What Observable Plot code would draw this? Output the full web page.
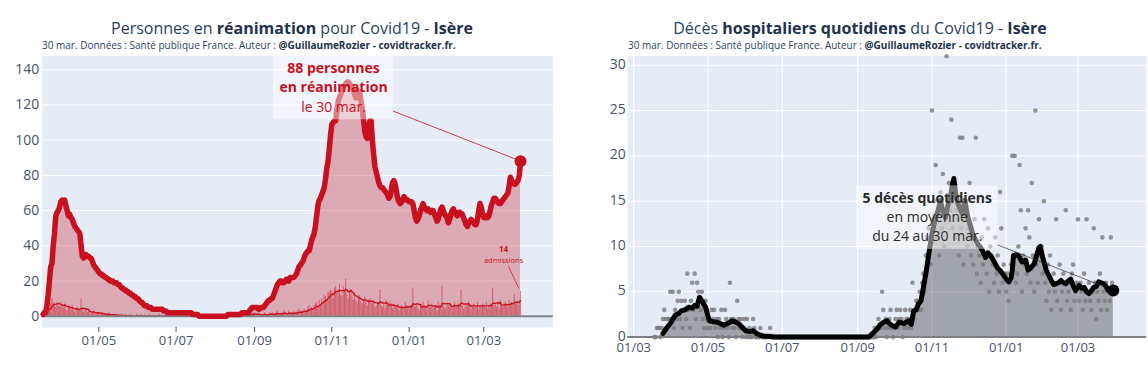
<!DOCTYPE html>
<html><head><meta charset="utf-8">
<script src="https://cdn.jsdelivr.net/npm/d3@7"></script>
<script src="https://cdn.jsdelivr.net/npm/@observablehq/plot@0.6"></script>
<style>
html,body{margin:0;padding:0;background:#fff;}
body{width:1148px;height:369px;overflow:hidden;position:relative;font-family:"Open Sans",sans-serif;}
.title{position:absolute;font-size:16px;line-height:1;color:#2a3f5f;white-space:nowrap;transform:translateX(-50%);}
.title b{color:#22324d;font-weight:700;}
.sub{position:absolute;font-size:10px;line-height:1;color:#2a3f5f;white-space:nowrap;}
.sub b{font-weight:700;color:#22324d;}
.chart{position:absolute;top:50px;}
</style></head><body>
<div class="title" style="left:292px;top:20px">Personnes en <b>réanimation</b> pour Covid19 - <b>Isère</b></div>
<div class="sub" style="left:42px;top:40px">30 mar. Données : Santé publique France. Auteur : <b>@GuillaumeRozier - covidtracker.fr.</b></div>
<div class="title" style="left:860px;top:20px">Décès <b>hospitaliers quotidiens</b> du Covid19 - <b>Isère</b></div>
<div class="sub" style="left:628px;top:40px">30 mar. Données : Santé publique France. Auteur : <b>@GuillaumeRozier - covidtracker.fr.</b></div>
<div id="left" class="chart" style="left:0px"></div>
<div id="right" class="chart" style="left:580px"></div>
<script>
// ---------- DATA ----------
// Personnes en réanimation (daily), by month blocks
const reaBlocks = [
  ["2020-03-18", [1,2,2,6,12,20,28,30,40,47,57,59,60,62]],
  ["2020-04-01", [65,66,65,66,63,60,57,58,56,55,53,51,50,49,48,47,40,34,33,34,35,34,34,33,33,31,29,28,27,26]],
  ["2020-05-01", [25,24,24,23,23,22,22,21,21,20,20,20,19,19,19,18,18,17,16,16,15,15,14,14,13,13,12,12,11,11,10]],
  ["2020-06-01", [10,9,8,8,7,6,6,6,5,5,5,4,4,4,4,4,4,4,4,4,3,3,3,2,2,2,2,2,2,2]],
  ["2020-07-01", [2,2,2,2,2,2,2,2,2,2,2,2,2,1,1,1,1,1,0,0,0,0,0,0,0,0,0,0,0,0,0]],
  ["2020-08-01", [0,0,0,0,0,0,0,0,0,0,1,1,1,1,1,1,1,1,1,1,1,2,2,2,2,2,2,3,4,5,5]],
  ["2020-09-01", [5,5,5,4,4,5,5,5,6,7,8,9,9,10,10,12,14,16,18,19,20,20,19,19,20,21,21,20,22,22]],
  ["2020-10-01", [22,22,23,24,26,28,29,30,31,33,35,36,37,37,40,43,45,47,51,57,63,66,67,69,71,73,78,84,88,95,103]],
  ["2020-11-01", [109,110,111,111,117,122,124,126,128,130,131,132,133,133,132,131,130,129,126,124,127,128,127,122,118,112,105,102,101,106]],
  ["2020-12-01", [111,111,100,92,85,82,79,76,74,73,73,72,71,70,69,67,68,72,76,77,75,71,67,65,64,65,66,68,67,66,66]],
  ["2021-01-01", [65,65,65,64,60,56,54,55,57,60,62,64,62,61,60,61,60,59,60,60,58,56,54,55,58,61,62,60,58,57,56]],
  ["2021-02-01", [53,55,58,60,61,59,58,57,59,59,58,58,56,54,52,51,53,54,55,54,53,52,52,55,60,64,62,58]],
  ["2021-03-01", [56,56,57,56,57,60,63,65,67,67,66,65,64,64,65,66,67,68,69,70,74,79,77,76,75,75,76,77,80,88]]
];
// Admissions en réanimation (daily)
const admBlocks = [
  ["2020-03-18", [2,3,3,5,6,4,7,10,8,7,5,8,6,5]],
  ["2020-04-01", [8,6,5,7,4,3,6,5,4,6,3,2,4,5,3,4,10,3,2,3,4,2,3,2,1,2,3,2,1,2]],
  ["2020-05-01", [2,1,1,2,1,0,1,1,2,0,1,1,0,1,0,1,0,0,1,0,0,1,0,0,0,1,0,0,0,0,1]],
  ["2020-06-01", [0,0,1,0,0,0,0,0,0,1,0,0,0,0,0,0,0,1,0,0,0,0,0,0,0,0,0,0,0,0]],
  ["2020-07-01", [0,0,0,1,0,0,0,0,0,0,0,0,0,0,0,0,0,0,0,0,0,0,1,0,0,0,0,0,0,0,0]],
  ["2020-08-01", [0,0,0,0,0,0,0,0,0,0,1,0,0,0,0,0,0,0,1,0,0,0,0,1,0,0,4,0,1,1,2]],
  ["2020-09-01", [1,0,1,2,0,0,1,1,2,1,0,1,2,1,2,0,1,2,3,1,0,2,1,3,2,1,0,3,2,1]],
  ["2020-10-01", [2,3,1,1,3,4,2,3,2,4,2,3,5,6,4,5,3,6,7,8,5,9,6,10,8,12,11,9,14,13,15]],
  ["2020-11-01", [14,10,16,17,13,15,18,12,11,17,14,21,12,10,14,15,11,9,13,9,8,10,12,8,7,9,11,8,6,9]],
  ["2020-12-01", [10,8,7,9,5,6,8,7,15,6,5,7,4,9,6,5,8,7,4,6,5,5,7,3,4,6,5,4,8,6,5]],
  ["2021-01-01", [4,6,5,16,6,5,7,4,3,6,5,8,6,5,4,9,6,5,7,4,5,6,3,8,6,5,17,6,4,5,7]],
  ["2021-02-01", [6,5,7,4,6,8,5,6,7,5,15,6,4,5,7,6,8,5,4,6,7,5,6,8,4,6,5,7]],
  ["2021-03-01", [6,5,8,4,6,7,5,16,6,7,5,8,4,9,6,5,7,8,5,6,9,7,8,6,12,7,8,6,9,14]]
];
// Décès hospitaliers quotidiens (daily)
const deathBlocks = [
  ["2020-03-18", [0,0,1,1,1,0,1,2,3,2,1,2,2,5]],
  ["2020-04-01", [2,5,1,3,2,4,5,2,4,1,3,4,2,7,3,1,4,6,3,7,2,6,5,4,3,5,2,1,4,3]],
  ["2020-05-01", [1,2,1,3,2,3,1,2,0,2,1,3,0,1,3,2,1,0,6,2,1,2,1,0,4,2,1,2,0,1,2]],
  ["2020-06-01", [0,2,0,1,0,0,2,1,0,0,0,0,1,0,0,0,0,0,0,0,1,0,0,0,0,0,0,0,0,0]],
  ["2020-07-01", [0,0,0,0,0,0,0,0,0,0,0,0,0,0,0,0,0,0,0,0,0,0,0,0,0,0,0,0,0,0,0]],
  ["2020-08-01", [0,0,0,0,0,0,0,0,0,0,0,0,0,0,0,0,0,0,0,0,0,0,0,0,0,0,0,0,0,0,0]],
  ["2020-09-01", [0,0,0,0,0,0,0,0,0,0,0,0,0,0,1,0,1,2,1,1,5,3,1,2,0,1,2,3,1,0]],
  ["2020-10-01", [1,2,3,1,2,3,2,0,1,3,2,1,2,3,1,6,2,3,4,3,4,5,3,6,7,5,9,11,12,10,8]],
  ["2020-11-01", [25,13,15,19,11,14,9,16,12,18,10,13,31,15,17,14,24,12,16,11,14,13,9,22,12,22,8,13,15,10]],
  ["2020-12-01", [12,17,9,11,8,13,22,7,10,9,6,11,8,13,9,7,12,5,10,9,8,6,11,7,9,5,16,12,6,8,7]],
  ["2021-01-01", [5,7,4,6,8,20,9,20,6,7,10,19,14,5,9,8,12,7,14,11,6,17,9,5,25,8,6,13,9,10,7]],
  ["2021-02-01", [15,6,4,8,5,9,3,6,7,5,13,4,6,8,3,5,7,6,14,4,5,6,3,7,8,4,5,6]],
  ["2021-03-01", [13,4,6,5,3,7,4,13,5,6,4,3,5,12,6,2,5,4,7,3,11,5,4,6,3,5,4,11,6,5]]
];
// Décès : moyenne glissante 7 jours
const deathAvgDates = ["2020-03-25","2020-03-28","2020-03-31","2020-04-04","2020-04-07","2020-04-09","2020-04-12","2020-04-15","2020-04-18","2020-04-20","2020-04-22","2020-04-24","2020-04-26","2020-04-29","2020-05-02","2020-05-05","2020-05-08","2020-05-11","2020-05-14","2020-05-17","2020-05-21","2020-05-23","2020-05-26","2020-05-29","2020-06-01","2020-06-04","2020-06-07","2020-06-10","2020-06-13","2020-06-16","2020-06-20","2020-06-25","2020-09-10","2020-09-14","2020-09-17","2020-09-19","2020-09-22","2020-09-25","2020-09-27","2020-09-29","2020-10-02","2020-10-05","2020-10-09","2020-10-13","2020-10-15","2020-10-17","2020-10-19","2020-10-21","2020-10-23","2020-10-25","2020-10-27","2020-10-29","2020-11-01","2020-11-04","2020-11-06","2020-11-08","2020-11-10","2020-11-12","2020-11-14","2020-11-16","2020-11-18","2020-11-19","2020-11-21","2020-11-23","2020-11-26","2020-11-28","2020-11-30","2020-12-03","2020-12-05","2020-12-07","2020-12-09","2020-12-11","2020-12-13","2020-12-15","2020-12-17","2020-12-19","2020-12-21","2020-12-23","2020-12-25","2020-12-27","2020-12-29","2020-12-31","2021-01-03","2021-01-05","2021-01-06","2021-01-07","2021-01-09","2021-01-11","2021-01-14","2021-01-17","2021-01-19","2021-01-21","2021-01-24","2021-01-26","2021-01-28","2021-01-29","2021-01-31","2021-02-03","2021-02-05","2021-02-07","2021-02-09","2021-02-11","2021-02-13","2021-02-15","2021-02-17","2021-02-19","2021-02-21","2021-02-23","2021-02-25","2021-02-27","2021-03-02","2021-03-04","2021-03-06","2021-03-08","2021-03-10","2021-03-12","2021-03-14","2021-03-16","2021-03-18","2021-03-20","2021-03-22","2021-03-24","2021-03-26","2021-03-28","2021-03-30"];
const deathAvgValues = [0.4,1.0,1.5,2.4,2.6,2.9,3.0,3.3,3.2,3.5,3.4,4.4,4.0,3.3,1.8,1.7,1.65,1.5,1.3,1.5,1.8,1.7,1.5,1.1,0.7,0.6,0.7,0.4,0.2,0.1,0.1,0,0,0.5,0.9,1.3,1.6,1.8,1.5,1.3,1.1,1.65,1.5,1.8,1.4,2.9,3.0,3.7,4.0,5.5,7.0,8.8,11.4,13.2,14.0,15.1,13.8,13.2,14.5,15.4,17.0,17.5,15.4,14.5,13.6,15.1,13.5,12.1,11.2,10.7,10.2,9.9,9.4,8.8,9.3,9.0,8.6,8.1,7.6,7.35,7.0,6.6,6.1,6.5,7.35,9.0,9.1,9.0,8.3,8.5,7.4,7.6,8.1,9.0,9.9,10.0,8.8,7.35,6.8,6.25,5.8,5.9,6.0,6.25,6.0,5.9,6.2,6.4,5.7,5.15,5.7,5.4,5.5,5.0,4.8,5.1,5.5,5.6,6.1,6.0,5.9,5.6,5.15,4.9,5.15];

// Axes
const leftYTicks = [0,20,40,60,80,100,120,140];
const rightYTicks = [0,5,10,15,20,25,30];
const leftXTicks = ["2020-05-01","2020-07-01","2020-09-01","2020-11-01","2021-01-01","2021-03-01"];
const rightXTicks = ["2020-03-01","2020-05-01","2020-07-01","2020-09-01","2020-11-01","2021-01-01","2021-03-01"];
const leftXDomain = ["2020-03-17T07:00:00Z","2021-04-24T19:00:00Z"];
const leftYDomain = [-6.4, 147.7];
const rightXDomain = ["2020-02-25T02:00:00Z","2021-04-26T07:00:00Z"];
const rightYDomain = [-0.1, 31];

// ---------- STYLE ----------
const RED = "#c8101e";
const BG = "#e5ecf6";
const TICK = "#44546e";
const FONT = '"Open Sans", sans-serif';

function expand(blocks) {
  const out = [];
  for (const [start, vals] of blocks) {
    const t0 = new Date(start + "T00:00:00Z").getTime();
    vals.forEach((v, i) => out.push({date: new Date(t0 + i * 864e5), value: v}));
  }
  return out;
}
const rea = expand(reaBlocks);
const adm = expand(admBlocks);
const deaths = expand(deathBlocks);
const deathAvg = deathAvgDates.map((d, i) => ({date: new Date(d + "T00:00:00Z"), value: deathAvgValues[i]}));
const toDate = s => new Date(s.length <= 10 ? s + "T00:00:00Z" : s);
const fmt = d3.utcFormat("%d/%m");

const reaLast = rea[rea.length - 1];
const admLast = adm[adm.length - 1];
const avgLast = deathAvg[deathAvg.length - 1];

// ---------- Callout (box + pointer line), positioned from the data point via the plot's scales ----------
const measureCtx = document.createElement("canvas").getContext("2d");
function textWidth(str, size, weight) {
  measureCtx.font = `${weight} ${size}px "Open Sans"`;
  return measureCtx.measureText(str).width;
}
function callout(point, spec) {
  return (index, scales) => {
    const px = scales.x(point.date), py = scales.y(point.value);
    const cx = px + spec.dx;
    let maxW = 0, top = Infinity, bottom = -Infinity;
    for (const ln of spec.lines) {
      maxW = Math.max(maxW, textWidth(ln.text, ln.size, ln.weight));
      top = Math.min(top, py + ln.dy - ln.size * 0.68);
      bottom = Math.max(bottom, py + ln.dy + ln.size * 0.68);
    }
    const x0 = cx - maxW / 2 - spec.padX, x1 = cx + maxW / 2 + spec.padX;
    const y0 = top - spec.padY, y1 = bottom + spec.padY;
    const g = d3.create("svg:g");
    if (spec.boxFill) {
      g.append("rect").attr("x", x0).attr("y", y0).attr("width", x1 - x0).attr("height", y1 - y0)
        .attr("fill", spec.boxFill).attr("fill-opacity", spec.boxOpacity);
    }
    const ccx = (x0 + x1) / 2, ccy = (y0 + y1) / 2;
    const ddx = px - ccx, ddy = py - ccy;
    const t = Math.min((x1 - x0) / 2 / Math.abs(ddx || 1e-9), (y1 - y0) / 2 / Math.abs(ddy || 1e-9));
    const sx = ccx + ddx * t, sy = ccy + ddy * t;
    const len = Math.hypot(px - sx, py - sy) || 1;
    const ex = px - (px - sx) / len * spec.standoff, ey = py - (py - sy) / len * spec.standoff;
    g.append("line").attr("x1", sx).attr("y1", sy).attr("x2", ex).attr("y2", ey)
      .attr("stroke", spec.lineColor).attr("stroke-width", spec.lineWidth).attr("stroke-opacity", spec.lineOpacity);
    return g.node();
  };
}

const reaLines = [
  {text: `${reaLast.value} personnes`, size: 14, weight: "bold", dy: -92.5},
  {text: "en réanimation", size: 14, weight: "bold", dy: -73.5},
  {text: "le 30 mar.", size: 14, weight: "normal", dy: -54}
];
const admLines = [
  {text: String(admLast.value), size: 8, weight: "bold", dy: -42},
  {text: "admissions", size: 7.5, weight: "normal", dy: -31}
];
const deathLines = [
  {text: `${Math.round(avgLast.value)} décès quotidiens`, size: 14, weight: "bold", dy: -92},
  {text: "en moyenne", size: 14, weight: "normal", dy: -72.5},
  {text: "du 24 au 30 mar.", size: 14, weight: "normal", dy: -53.5}
];
function textMarks(point, lines, dx, fill) {
  return lines.map(ln => Plot.text([point], {x: "date", y: "value", text: () => ln.text, dx, dy: ln.dy,
    fontSize: ln.size, fontWeight: ln.weight, fill, fontFamily: FONT}));
}

// ---------- LEFT ----------
const left = Plot.plot({
  width: 570, height: 319,
  marginLeft: 41.7, marginRight: 17.3, marginTop: 5.7, marginBottom: 42,
  style: {fontFamily: FONT, fontSize: "13px", color: TICK, background: "transparent", overflow: "visible"},
  x: {type: "utc", domain: leftXDomain.map(toDate)},
  y: {domain: leftYDomain},
  marks: [
    Plot.frame({fill: BG, stroke: null}),
    Plot.gridY(leftYTicks, {stroke: "white", strokeOpacity: 1, strokeWidth: 1}),
    Plot.areaY(rea, {x: "date", y: "value", fill: RED, fillOpacity: 0.3}),
    Plot.ruleX(adm, {x: "date", y1: 0, y2: "value", stroke: RED, strokeOpacity: 0.5, strokeWidth: 1}),
    Plot.lineY(adm, Plot.windowY({k: 7, anchor: "end", reduce: "mean"}, {x: "date", y: "value", stroke: RED, strokeWidth: 1.4})),
    Plot.ruleY([0], {stroke: "#7d7f85", strokeWidth: 2}),
    Plot.lineY(rea, {x: "date", y: "value", stroke: RED, strokeWidth: 5.5}),
    Plot.dot([reaLast], {x: "date", y: "value", r: 6, fill: RED}),
    Plot.axisY({ticks: leftYTicks, tickSize: 0, tickPadding: 3, fontSize: 14, label: null}),
    Plot.axisX({ticks: leftXTicks.map(toDate), tickSize: 5, tickPadding: 3, tickFormat: fmt, fontSize: 13, label: null, stroke: "#555"}),
    callout(admLast, {dx: -17, lines: admLines, padX: 1, padY: 1, boxFill: null, standoff: 3, lineColor: RED, lineWidth: 1, lineOpacity: 0.7}),
    ...textMarks(admLast, admLines, -17, RED),
    callout(reaLast, {dx: -187, lines: reaLines, padX: 6, padY: 3, boxFill: "white", boxOpacity: 0.45, standoff: 3, lineColor: RED, lineWidth: 1, lineOpacity: 0.8}),
    ...textMarks(reaLast, reaLines, -187, RED)
  ]
});
document.getElementById("left").appendChild(left);

// ---------- RIGHT ----------
const right = Plot.plot({
  width: 568, height: 319,
  marginLeft: 47.3, marginRight: 2, marginTop: 5.7, marginBottom: 31.5,
  style: {fontFamily: FONT, fontSize: "13px", color: TICK, background: "transparent", overflow: "visible"},
  x: {type: "utc", domain: rightXDomain.map(toDate)},
  y: {domain: rightYDomain},
  marks: [
    Plot.frame({fill: BG, stroke: null}),
    Plot.gridY(rightYTicks, {stroke: "white", strokeOpacity: 1, strokeWidth: 1}),
    Plot.gridX(rightXTicks.map(toDate), {stroke: "white", strokeOpacity: 1, strokeWidth: 1}),
    Plot.areaY(deathAvg, {x: "date", y: "value", fill: "black", fillOpacity: 0.3}),
    Plot.dot(deaths, {x: "date", y: "value", r: 2.3, fill: "#7b7b7e", fillOpacity: 0.8}),
    Plot.ruleY([0], {stroke: "#7d7f85", strokeWidth: 2}),
    Plot.lineY(deathAvg, {x: "date", y: "value", stroke: "black", strokeWidth: 5}),
    Plot.dot([avgLast], {x: "date", y: "value", r: 6, fill: "black"}),
    Plot.axisY({ticks: rightYTicks, tickSize: 0, tickPadding: 2, fontSize: 14, label: null, dy: -1}),
    Plot.axisX({ticks: rightXTicks.map(toDate), tickSize: 0, tickPadding: 5, tickFormat: fmt, fontSize: 13, label: null}),
    callout(avgLast, {dx: -186, lines: deathLines, padX: 6, padY: 3, boxFill: "white", boxOpacity: 0.45, standoff: 9, lineColor: "#333", lineWidth: 1, lineOpacity: 0.7}),
    ...textMarks(avgLast, deathLines, -186, "#2b2b2b")
  ]
});
document.getElementById("right").appendChild(right);
</script>
</body></html>
